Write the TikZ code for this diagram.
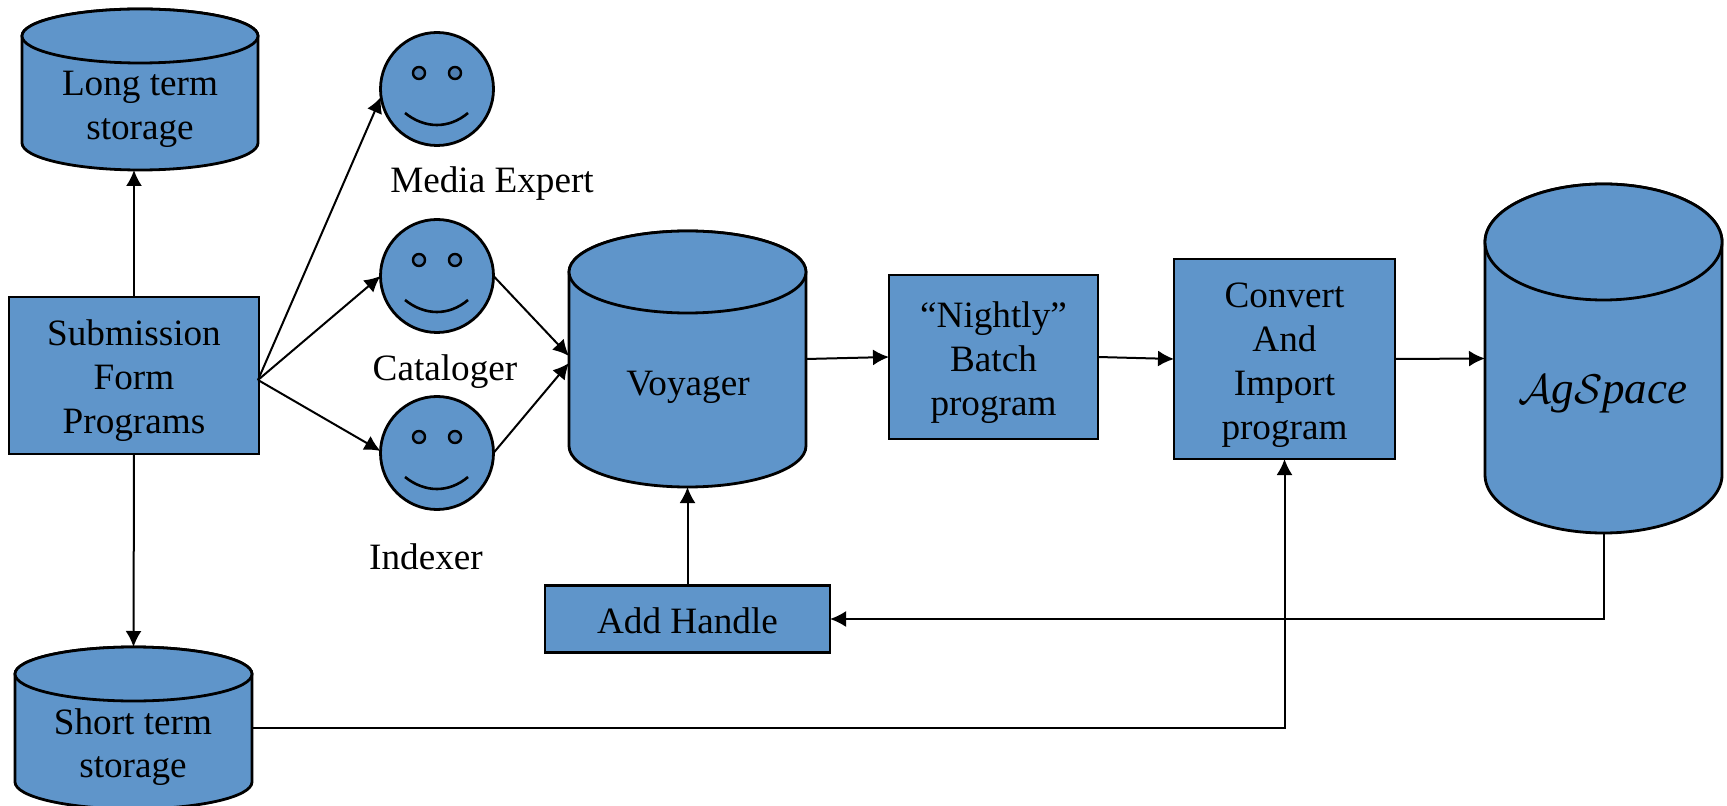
\documentclass[tikz,border=0pt]{standalone}
\usepackage{fontspec}
\setmainfont{Liberation Serif}
\usetikzlibrary{arrows.meta,calc}
\definecolor{boxblue}{HTML}{5F95CA}
\definecolor{eyeblue}{HTML}{4F7FB2}
\tikzset{
	txt/.style={font=\fontsize{18.6pt}{22pt}\selectfont,align=center,inner sep=0pt,outer sep=0pt},
	box/.style={txt,draw,fill=boxblue,line width=1.4pt,execute at begin node={\rule{0pt}{#1}}},
	drumline/.style={draw,fill=boxblue,line width=1.4pt},
	face/.style={circle,draw,fill=boxblue,line width=1.4pt,minimum size=56.5pt,inner sep=0pt,outer sep=0pt},
	conn/.style={line width=1pt,-{Latex[length=8pt,width=8pt]}},
}
% name, centre x, top, bottom, x radius, y radius
\newcommand{\drum}[6]{
	\path[drumline] ({#2-#5},{#3+#6}) -- ({#2-#5},{#4-#6}) arc[start angle=180,end angle=0,x radius=#5,y radius=#6]
		-- ({#2+#5},{#3+#6}) arc[start angle=0,end angle=-180,x radius=#5,y radius=#6] -- cycle;
	\path[drumline] (#2,{#3+#6}) ellipse[x radius=#5,y radius=#6];
	\node[minimum width={(#5)*1pt},minimum height={(#4-#3)*0.5pt},inner sep=0pt,outer sep=0pt] (#1) at (#2,{(#3+#4)/2}) {};
}
\begin{document}
\begin{tikzpicture}[x=0.5pt,y=-0.5pt]
	\useasboundingbox (0,0) rectangle (1727,806);
	\clip (0,0) rectangle (1727,806);
	% stores
	\drum{longterm}{140}{9}{170}{118}{27}
	\drum{voyager}{687.5}{231}{487}{118.5}{41}
	\drum{agspace}{1603.5}{184}{533}{118.5}{58}
	\drum{shortterm}{133.5}{647}{809}{118.5}{27}
	\node[txt] (longtxt) at (140,109.5) {Long term\\[-0.3pt]storage};
	\node[txt] (voytxt) at (688,387.5) {Voyager};
	\node[txt] (agtxt) at (1603,394) {\fontsize{22.5pt}{28pt}\selectfont\itshape $\mathcal{A}$g$\mathcal{S}$pace};
	\node[txt] (shorttxt) at (133,747) {Short term\\[-0.3pt]storage};
	% boxes
	\node[box=62pt,minimum width=125pt,minimum height=78.5pt] (submit) at (134,375.5) {Submission\\Form\\Programs};
	\node[box=63pt,minimum width=104.5pt,minimum height=82pt] (nightly) at (993.5,357) {``Nightly''\\Batch\\program};
	\node[box=85pt,minimum width=110.5pt,minimum height=100pt] (convert) at (1284.5,359) {Convert\\And\\Import\\program};
	\node[box=15pt,minimum width=142.5pt,minimum height=33.5pt] (handle) at (687.5,619) {Add Handle};
	% faces
	\node[face] (media) at (437,89) {};
	\node[face] (catalog) at (437,276) {};
	\node[face] (index) at (437,453) {};
	\foreach \f in {media,catalog,index}{
		\draw[line width=1.2pt,fill=eyeblue] ($(\f)+(-18,-16)$) circle (3pt);
		\draw[line width=1.2pt,fill=eyeblue] ($(\f)+(18,-16)$) circle (3pt);
		\draw[line width=1.3pt] ($(\f)+(-32,24)$) .. controls ($(\f)+(-12,40)$) and ($(\f)+(12,40)$) .. ($(\f)+(31,24)$);
	}
	\node[txt] (medialab) at (492,184) {Media Expert};
	\node[txt] (cataloglab) at (445,372) {Cataloger};
	\node[txt] (indexlab) at (426,557) {Indexer};
	% connectors
	\coordinate (fan) at (258,380);
	\draw[conn] (submit.north) -- (submit.north |- longterm.south);
	\draw[conn] (submit.south) -- (shortterm.north);
	\draw[conn] (fan) -- (media.188);
	\draw[conn] (fan) -- (catalog.west);
	\draw[conn] (fan) -- (index.178);
	\draw[conn] (catalog.east) -- ($(voyager.west)+(0,-3)$);
	\draw[conn] (index.east) -- ($(voyager.west)+(0,4)$);
	\draw[conn] (voyager.east) -- (nightly.west);
	\draw[conn] (nightly.east) -- (convert.west);
	\draw[conn] (convert.east) -- (agspace.west);
	\draw[conn] (handle.north) -- (voyager.south);
	\draw[conn] (agspace.south) |- (handle.east);
	\draw[conn] (shortterm.east) -| (convert.south);
\end{tikzpicture}
\end{document}
